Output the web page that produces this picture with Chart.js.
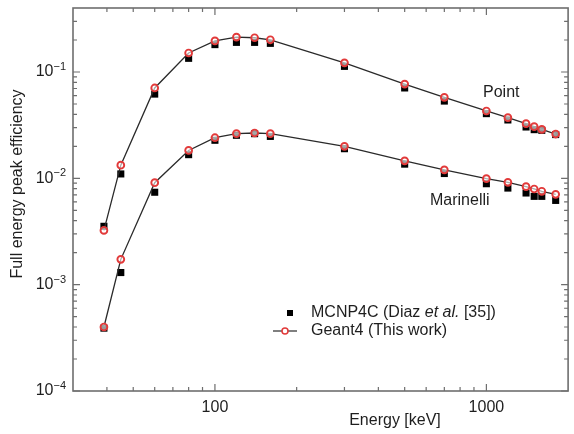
<!DOCTYPE html>
<html>
<head>
<meta charset="utf-8">
<script src="https://cdn.jsdelivr.net/npm/chart.js@4.4.1/dist/chart.umd.min.js"></script>
<style>
  html, body { margin: 0; padding: 0; background: #fff; }
  #wrap { width: 574px; height: 434px; }
</style>
</head>
<body>
<div id="wrap"><canvas id="effChart" width="574" height="434"></canvas></div>
<script>
// energies in keV
const energies = [39, 45, 60, 80, 100, 120, 140, 160, 300, 500, 700, 1000, 1200, 1400, 1500, 1600, 1800];

// point source
const pointGeant4 = [0.00324, 0.0133, 0.0708, 0.151, 0.196, 0.213, 0.21, 0.201, 0.122, 0.077, 0.0578, 0.043, 0.0372, 0.0327, 0.0306, 0.0289, 0.0261];
const pointMcnp = [0.00354, 0.011, 0.062, 0.1345, 0.181, 0.19, 0.19, 0.186, 0.113, 0.0708, 0.0533, 0.0406, 0.0354, 0.0304, 0.0287, 0.0283, 0.0258];

// marinelli beaker
const marinelliGeant4 = [0.0004, 0.00173, 0.0091, 0.0183, 0.0241, 0.0263, 0.0267, 0.0263, 0.02, 0.0146, 0.012, 0.00993, 0.00917, 0.00835, 0.00794, 0.00755, 0.00707];
const marinelliMcnp = [0.00039, 0.0013, 0.0074, 0.0167, 0.0228, 0.0254, 0.0263, 0.0248, 0.019, 0.0136, 0.0111, 0.0089, 0.0081, 0.00728, 0.00677, 0.00677, 0.0062];

const xMajor = [100, 1000];
const yExponents = [-1, -2, -3, -4];

const FONT = '"Liberation Sans", Arial, Helvetica, sans-serif';
const RED = '#e23a3a';

function toXY(vals) {
    return energies.map((e, i) => ({ x: e, y: vals[i] }));
}

function geantSet(vals) {
    return {
        data: toXY(vals),
        showLine: true,
        borderColor: '#2a2a2a',
        borderWidth: 1.3,
        pointStyle: 'circle',
        pointRadius: 3.4,
        pointBorderWidth: 1.9,
        pointBorderColor: RED,
        pointBackgroundColor: 'rgba(255,255,255,0.6)',
        order: 0
    };
}

function mcnpSet(vals) {
    return {
        data: toXY(vals),
        showLine: false,
        pointStyle: 'rect',
        pointRadius: 5,
        pointBorderWidth: 0,
        pointBackgroundColor: '#000',
        pointBorderColor: '#000',
        order: 1
    };
}

// frame, inward ticks, labels, legend and notes
const decorations = {
    id: 'decorations',
    afterDraw(chart) {
        const ctx = chart.ctx;
        const area = chart.chartArea;
        const xs = chart.scales.x, ys = chart.scales.y;
        ctx.save();

        ctx.strokeStyle = '#6e6e6e';
        ctx.lineWidth = 1.6;
        ctx.strokeRect(area.left, area.top, area.right - area.left, area.bottom - area.top);

        ctx.lineWidth = 1.2;
        ctx.beginPath();
        // x ticks (bottom and top)
        for (let d = 10; d <= 1000; d *= 10) {
            for (let m = 1; m <= 9; m++) {
                const v = d * m;
                if (v <= xs.min || v >= xs.max) continue;
                const px = xs.getPixelForValue(v);
                const len = m === 1 ? 7 : 4;
                ctx.moveTo(px, area.bottom); ctx.lineTo(px, area.bottom - len);
                ctx.moveTo(px, area.top); ctx.lineTo(px, area.top + len);
            }
        }
        // y ticks (left and right)
        for (let k = -4; k <= -1; k++) {
            for (let m = 1; m <= 9; m++) {
                const v = m * Math.pow(10, k);
                if (v < ys.min || v >= ys.max) continue;
                const py = ys.getPixelForValue(v);
                const len = m === 1 ? 7 : 4;
                ctx.moveTo(area.left, py); ctx.lineTo(area.left + len, py);
                ctx.moveTo(area.right, py); ctx.lineTo(area.right - len, py);
            }
        }
        ctx.stroke();

        ctx.fillStyle = '#1e1e1e';
        ctx.textBaseline = 'middle';

        // x tick labels
        ctx.font = '16px ' + FONT;
        ctx.textAlign = 'center';
        xMajor.forEach(v => ctx.fillText(String(v), xs.getPixelForValue(v), 408));

        // y tick labels 10^k
        yExponents.forEach(k => {
            const py = ys.getPixelForValue(Math.pow(10, k));
            const sup = '\u2212' + Math.abs(k);
            ctx.font = '11px ' + FONT;
            const sw = ctx.measureText(sup).width;
            ctx.textAlign = 'left';
            ctx.fillText(sup, 66 - sw, py - 5);
            ctx.font = '16px ' + FONT;
            ctx.textAlign = 'right';
            ctx.fillText('10', 66 - sw, py);
        });

        // axis titles
        ctx.font = '16px ' + FONT;
        ctx.textAlign = 'center';
        ctx.fillText('Energy [keV]', 395, 421);
        ctx.save();
        ctx.translate(18, 184);
        ctx.rotate(-Math.PI / 2);
        ctx.fillText('Full energy peak efficiency', 0, 0);
        ctx.restore();

        // series notes
        ctx.textAlign = 'left';
        ctx.fillText('Point', 483, 93);
        ctx.fillText('Marinelli', 430, 201);

        // legend
        ctx.fillStyle = '#000';
        ctx.fillRect(287, 310, 6, 6);
        ctx.strokeStyle = '#2a2a2a';
        ctx.lineWidth = 1.2;
        ctx.beginPath();
        ctx.moveTo(273, 331); ctx.lineTo(297, 331);
        ctx.stroke();
        ctx.beginPath();
        ctx.arc(285, 331, 3, 0, Math.PI * 2);
        ctx.fillStyle = '#fff';
        ctx.fill();
        ctx.strokeStyle = RED;
        ctx.lineWidth = 1.5;
        ctx.stroke();

        ctx.fillStyle = '#1e1e1e';
        let tx = 311;
        const parts = [['MCNP4C (Diaz ', ''], ['et al.', 'italic '], [' [35])', '']];
        parts.forEach(([t, style]) => {
            ctx.font = style + '16px ' + FONT;
            ctx.fillText(t, tx, 313);
            tx += ctx.measureText(t).width;
        });
        ctx.font = '16px ' + FONT;
        ctx.fillText('Geant4 (This work)', 311, 331);

        ctx.restore();
    }
};

const ctx = document.getElementById('effChart').getContext('2d');
const effChart = new Chart(ctx, {
    type: 'scatter',
    data: {
        datasets: [
            geantSet(pointGeant4),
            geantSet(marinelliGeant4),
            mcnpSet(pointMcnp),
            mcnpSet(marinelliMcnp)
        ]
    },
    options: {
        responsive: false,
        animation: false,
        layout: { padding: { left: 73, right: 5, top: 8, bottom: 43 } },
        scales: {
            x: {
                type: 'logarithmic',
                display: false,
                min: 30,
                max: 2000
            },
            y: {
                type: 'logarithmic',
                display: false,
                min: 1e-4,
                max: 0.4
            }
        },
        plugins: {
            legend: { display: false },
            tooltip: { enabled: false }
        }
    },
    plugins: [decorations]
});
</script>
</body>
</html>
